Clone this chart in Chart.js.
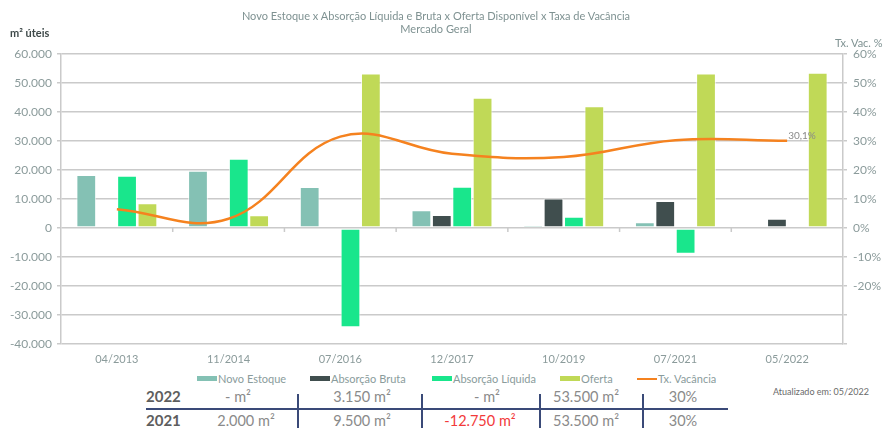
<!DOCTYPE html>
<html>
<head>
<meta charset="utf-8">
<script src="https://cdn.jsdelivr.net/npm/chart.js@4.4.1/dist/chart.umd.min.js"></script>
<style>
  html,body{margin:0;padding:0;background:#fff;}
  body{width:886px;height:428px;overflow:hidden;position:relative;font-family:Lato,"Open Sans",sans-serif;}
  #cw{position:absolute;left:0;top:0;width:886px;height:370px;}
  .abs{position:absolute;white-space:nowrap;}
  .title{left:0;width:872px;text-align:center;color:#7f9292;font-size:11px;}
  .leg{position:absolute;top:372px;font-size:11px;color:#8a9c9c;display:flex;align-items:center;}
  .sw{display:inline-block;width:20px;height:5px;margin-right:1px;}
  .cell{position:absolute;font-size:14.5px;color:#8a8a8a;text-align:center;}
  .yr{position:absolute;font-size:15px;color:#5e5e5e;font-weight:700;}
  .vl{position:absolute;width:1.5px;background:#3a4a78;}
</style>
</head>
<body>
<div id="cw"><canvas id="c"></canvas></div>
<div class="abs title" style="top:9px;">Novo Estoque x Absorção Líquida e Bruta x Oferta Disponível x Taxa de Vacância</div>
<div class="abs title" style="top:22px;">Mercado Geral</div>
<div class="abs" style="left:10px;top:26px;font-size:11px;font-weight:700;color:#3f4a4a;">m² úteis</div>
<div class="abs" style="left:835px;top:36px;font-size:11px;color:#7f9292;">Tx. Vac. %</div>
<div id="legend"></div>
<div id="table"></div>
<div class="abs" style="left:773px;top:386px;font-size:9px;color:#6a6a6a;">Atualizado em: 05/2022</div>
<script>
// ---- data ----
const categories = ['04/2013','11/2014','07/2016','12/2017','10/2019','07/2021','05/2022'];
const novoEstoque = [18300, 19700, 14100, 6100, 1000, 2000, null];
const absorcaoBruta = [null, null, null, 4500, 10200, 9300, 3150];
const absorcaoLiquida = [18000, 23900, -34200, 14200, 3900, -8900, null];
const oferta = [8500, 4400, 53300, 44900, 42000, 53300, 53500];
const txVacancia = [6.5, 3.2, 31.5, 25.6, 24.5, 30.3, 30.1];
const leftTicks = [60000, 50000, 40000, 30000, 20000, 10000, 0, -10000, -20000, -30000, -40000];
const rightTicks = [60, 50, 40, 30, 20, 10, 0, -10, -20];
const tableRows = [
  {year:'2022', vals:['- m²','3.150 m²','- m²','53.500 m²','30%']},
  {year:'2021', vals:['2.000 m²','9.500 m²','-12.750 m²','53.500 m²','30%']}
];
const seriesNames = ['Novo Estoque','Absorção Bruta','Absorção Líquida','Oferta','Tx. Vacância'];
const colors = ['#84c1b4','#404e4e','#19e68c','#c0d957','#f5821f'];

const fmt = v => v.toLocaleString('de-DE');
const gridColor = '#cacaca';
const tickColor = '#8b9b9b';
const font = {family:'Lato', size:12};

const zeroTicks = {
  id:'zeroTicks',
  beforeDatasetsDraw(chart){
    const x = chart.scales.x, y = chart.scales.y, ctx = chart.ctx;
    const y0 = y.getPixelForValue(0);
    ctx.save();
    ctx.strokeStyle = gridColor; ctx.lineWidth = 1.5;
    for(let i=1;i<categories.length;i++){
      const px = (x.getPixelForValue(i-1)+x.getPixelForValue(i))/2;
      ctx.beginPath(); ctx.moveTo(px,y0); ctx.lineTo(px,y0+4); ctx.stroke();
    }
    ctx.restore();
  }
};
const lastLabel = {
  id:'lastLabel',
  afterDatasetsDraw(chart){
    const meta = chart.getDatasetMeta(4);
    const pt = meta.data[meta.data.length-1];
    const ctx = chart.ctx;
    ctx.save();
    ctx.font = '10px Lato'; ctx.fillStyle = '#8a8a8a';
    ctx.textAlign='left'; ctx.textBaseline='middle';
    const v = txVacancia[txVacancia.length-1];
    ctx.fillText(v.toString().replace('.',',')+'%', pt.x+1, pt.y-5);
    ctx.restore();
  }
};

const barDs = (i,data) => ({
  type:'bar', label:seriesNames[i], data, backgroundColor:colors[i],
  borderColor:'rgba(255,255,255,0.7)', borderWidth:1, borderSkipped:false,
  barPercentage:0.97, categoryPercentage:0.73, yAxisID:'y', order:2
});

new Chart(document.getElementById('c'), {
  data:{
    labels:categories,
    datasets:[
      barDs(0,novoEstoque), barDs(1,absorcaoBruta), barDs(2,absorcaoLiquida), barDs(3,oferta),
      {type:'line', label:seriesNames[4], data:txVacancia, borderColor:colors[4], borderWidth:2.5,
       tension:0.4, pointRadius:0, yAxisID:'y1', order:1, fill:false}
    ]
  },
  options:{
    responsive:true, maintainAspectRatio:false, animation:false,
    layout:{padding:{top:54,left:0,right:0,bottom:0}},
    plugins:{legend:{display:false}, title:{display:false}, tooltip:{enabled:false}},
    scales:{
      x:{
        grid:{display:false}, border:{display:false},
        ticks:{color:tickColor, font:{family:'Lato',size:11}, padding:1, maxRotation:0},
        afterFit(s){ s.height = 26; }
      },
      y:{
        position:'left', min:-40000, max:60000,
        afterBuildTicks(s){ s.ticks = leftTicks.map(v=>({value:v})); },
        grid:{color:gridColor, lineWidth:1.5, tickLength:4},
        border:{display:true, color:gridColor, width:1.5},
        ticks:{color:tickColor, font, padding:5, callback:v=>fmt(v)},
        afterFit(s){ s.width = 61; }
      },
      y1:{
        position:'right', min:-40, max:60,
        afterBuildTicks(s){ s.ticks = leftTicks.map(v=>({value:v/1000})); },
        grid:{drawOnChartArea:false, color:gridColor, lineWidth:1.5, tickLength:4},
        border:{display:true, color:gridColor, width:1.5},
        ticks:{color:tickColor, font, padding:6, callback:v=> rightTicks.includes(v) ? v+'%' : ''},
        afterFit(s){ s.width = 43; }
      }
    }
  },
  plugins:[zeroTicks,lastLabel]
});

// ---- legend ----
const legendX = [197, 310, 432, 560, 637];
const lg = document.getElementById('legend');
seriesNames.forEach((n,i)=>{
  const d = document.createElement('div');
  d.className='leg'; d.style.left = legendX[i]+'px';
  const sw = document.createElement('span'); sw.className='sw';
  sw.style.background = colors[i];
  if(i===4){ sw.style.height='2px'; }
  d.appendChild(sw);
  d.appendChild(document.createTextNode(n));
  lg.appendChild(d);
});

// ---- table ----
const tb = document.getElementById('table');
const colCenters = [[238, 362, 487, 586, 683],[246, 362, 480, 586, 683]];
const rowTop = [387, 411];
tableRows.forEach((r,ri)=>{
  const y = document.createElement('div'); y.className='yr';
  y.style.left='146px'; y.style.top=rowTop[ri]+'px'; y.textContent=r.year; tb.appendChild(y);
  r.vals.forEach((v,ci)=>{
    const c = document.createElement('div'); c.className='cell';
    c.style.left=(colCenters[ri][ci]-60)+'px'; c.style.width='120px'; c.style.top=(rowTop[ri]+1)+'px';
    c.textContent=v;
    if(v.startsWith('-1')) c.style.color='#f23a3a';
    tb.appendChild(c);
  });
});
const hl = document.createElement('div');
hl.style.cssText='position:absolute;left:146px;top:408px;width:582px;height:1.5px;background:#3a4a78;';
tb.appendChild(hl);
[297,421,539,642].forEach(x=>{
  const v = document.createElement('div'); v.className='vl';
  v.style.left=x+'px'; v.style.top='394px'; v.style.height='34px'; tb.appendChild(v);
});
</script>
</body>
</html>
